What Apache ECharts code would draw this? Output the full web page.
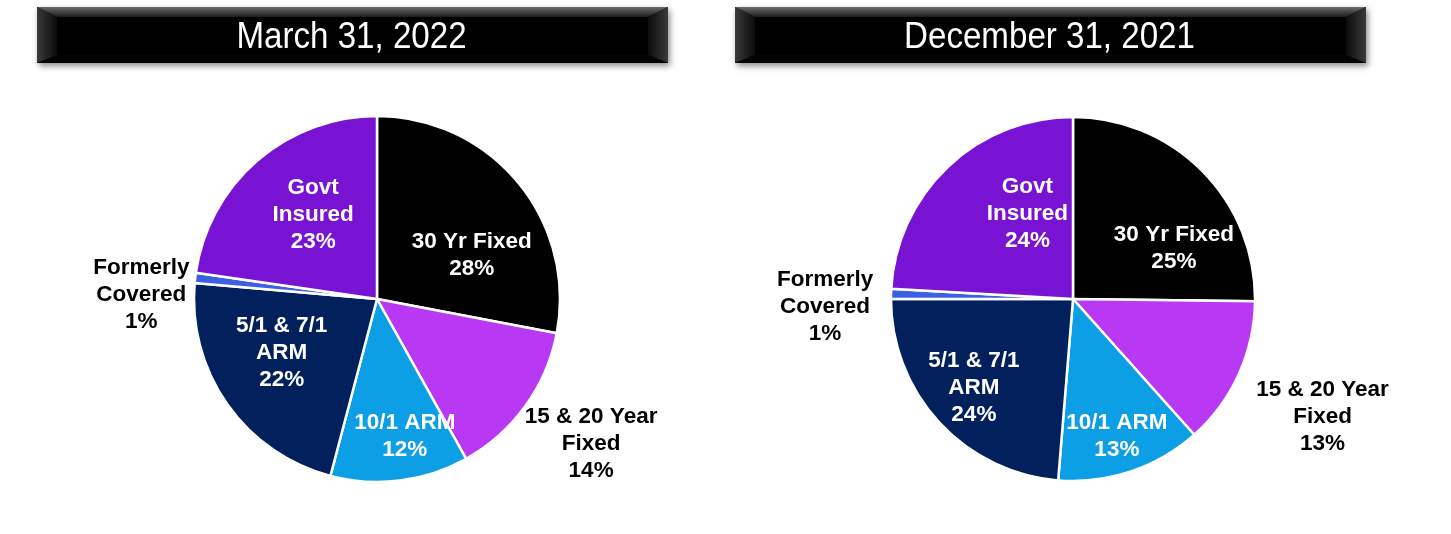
<!DOCTYPE html>
<html><head><meta charset="utf-8">
<script src="https://cdn.jsdelivr.net/npm/echarts@6/dist/echarts.min.js"></script>
<style>html,body{margin:0;padding:0;background:#fff}#c{width:1451px;height:534px}</style>
</head><body><div id="c"></div>
<script>
var categories = ['30 Yr Fixed', '15 & 20 Year\nFixed', '10/1 ARM', '5/1 & 7/1\nARM', 'Formerly\nCovered', 'Govt\nInsured'];
var titles = ['March 31, 2022', 'December 31, 2021'];
var valuesMar2022 = [28.0, 13.9, 12.2, 22.3, 0.9, 22.7];
var valuesDec2021 = [25.2, 13.2, 12.9, 23.7, 0.9, 24.1];
var colors = ['#000000', '#B938F4', '#0C9FE6', '#02205C', '#3D5FE2', '#7913D3'];
var outsideIdx = [1, 4];

var FONT = '"Liberation Sans", Arial, Helvetica, sans-serif';
var chart = echarts.init(document.getElementById('c'), null, {renderer: 'canvas'});

function buildData(vals) {
  return vals.map(function (v, i) {
    var out = outsideIdx.indexOf(i) >= 0;
    return {
      name: categories[i], value: v,
      itemStyle: {color: colors[i]},
      label: out ? {position: 'outside', color: '#000'} : {position: 'inside', color: '#fff'}
    };
  });
}

// label nudges (dx, dy) per pie, per slice
var nudgeL = [[22, 17], [51, 31], [16, 44], [-18, -1], [-37, 18], [-2, -13]];
var nudgeR = [[34, 15], [68, 37], [14, 48], [-30, 25], [-49, 13], [19, -17]];

function pieSeries(vals, center, radius, nudge) {
  return {
    type: 'pie', center: center, radius: radius, startAngle: 90, clockwise: true,
    avoidLabelOverlap: false, silent: true,
    data: buildData(vals),
    itemStyle: {borderColor: '#fff', borderWidth: 2.5},
    label: {
      show: true, fontFamily: FONT, fontWeight: 'bold',
      fontSize: 22.5, lineHeight: 27, align: 'center',
      formatter: function (p) { return p.name + '\n' + Math.round(p.percent) + '%'; }
    },
    labelLine: {show: false, length: 12, length2: 0},
    labelLayout: function (p) {
      var n = nudge[p.dataIndex];
      return {dx: n[0], dy: n[1], align: 'center'};
    }
  };
}

function titleBox(x, y, w, h, text) {
  return {
    type: 'group', silent: true,
    children: [
      {type: 'rect', shape: {x: x, y: y, width: w, height: h},
        style: {fill: '#000', shadowBlur: 6, shadowOffsetX: 2, shadowOffsetY: 3, shadowColor: 'rgba(0,0,0,0.45)'}},
      {type: 'polygon', shape: {points: [[x, y], [x + w, y], [x + w - 20, y + 10], [x + 20, y + 10]]},
        style: {fill: new echarts.graphic.LinearGradient(0, 0, 0, 1, [{offset: 0, color: '#6a6a6a'}, {offset: 1, color: '#1c1c1c'}])}},
      {type: 'polygon', shape: {points: [[x, y], [x + 20, y + 10], [x + 20, y + h - 8], [x, y + h]]},
        style: {fill: new echarts.graphic.LinearGradient(0, 0, 1, 0, [{offset: 0, color: '#3a3a3a'}, {offset: 1, color: '#0c0c0c'}])}},
      {type: 'polygon', shape: {points: [[x + w, y], [x + w - 20, y + 10], [x + w - 20, y + h - 8], [x + w, y + h]]},
        style: {fill: new echarts.graphic.LinearGradient(1, 0, 0, 0, [{offset: 0, color: '#3a3a3a'}, {offset: 1, color: '#0c0c0c'}])}},
      {type: 'polygon', shape: {points: [[x, y + h], [x + 20, y + h - 8], [x + w - 20, y + h - 8], [x + w, y + h]]},
        style: {fill: '#050505'}},
      {type: 'text', x: x + w / 2 - 1, y: y + h / 2 + 3, scaleX: 0.92,
        style: {text: text, fill: '#fff', font: 'normal 36px ' + FONT, textAlign: 'center', textVerticalAlign: 'middle'}}
    ]
  };
}

chart.setOption({
  backgroundColor: '#fff',
  animation: false,
  graphic: [titleBox(37, 7, 631, 56, titles[0]), titleBox(735, 7, 631, 56, titles[1])],
  series: [
    pieSeries(valuesMar2022, [377, 299], 183, nudgeL),
    pieSeries(valuesDec2021, [1073, 299], 182, nudgeR)
  ]
});
</script></body></html>
